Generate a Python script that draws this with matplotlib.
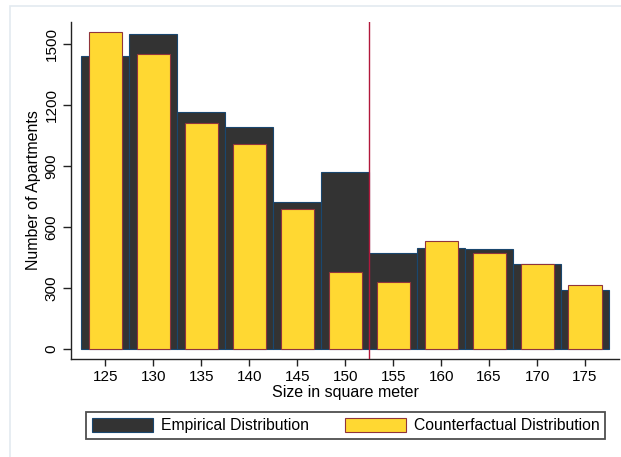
import matplotlib
matplotlib.use("Agg")
import matplotlib.pyplot as plt
from matplotlib.patches import Rectangle

plt.rcParams['font.family'] = ['Liberation Sans', 'DejaVu Sans']

# Apartment counts per 5 m² size bin
sizes = [125, 130, 135, 140, 145, 150, 155, 160, 165, 170, 175]
empirical = [1440, 1549, 1165, 1091, 723, 870, 473, 496, 490, 419, 291]
counterfactual = [1556, 1451, 1110, 1007, 686, 377, 329, 532, 470, 418, 314]
x_ticks = sizes
y_ticks = [0, 300, 600, 900, 1200, 1500]
threshold = 152.5

W, H = 621, 457
fig = plt.figure(figsize=(W / 100, H / 100), dpi=100)
fig.patch.set_facecolor('white')

# faint outer graph-region frame (open at the right and bottom edges)
fig.add_artist(Rectangle((10 / W, -0.05), (W - 10) / W + 0.05, (H - 6) / H + 0.05,
                         transform=fig.transFigure, fill=False,
                         edgecolor='#e3eaf0', linewidth=1.2))

left, right, top, bottom = 71, 619, 21.7, 359.3
ax = fig.add_axes([left / W, (H - bottom) / H, (right - left) / W, (bottom - top) / H])

ax.bar(sizes, empirical, width=5, color='#333333', edgecolor='#1a476f',
       linewidth=0.8, label='Empirical Distribution', zorder=2)
ax.bar(sizes, counterfactual, width=3.45, color='#ffd832', edgecolor='#90353b',
       linewidth=0.8, label='Counterfactual Distribution', zorder=3)
ax.axvline(threshold, color='#b2183b', linewidth=1.0, zorder=4)

ax.set_xlim(121.42, 178.54)
ax.set_ylim(-50.6, 1608)
ax.set_xticks(x_ticks)
ax.set_yticks(y_ticks)
ax.set_yticklabels([str(v) for v in y_ticks], rotation=90, va='center')

for s in ['top', 'right']:
    ax.spines[s].set_visible(False)
for s in ['left', 'bottom']:
    ax.spines[s].set_color('#222222')
    ax.spines[s].set_linewidth(1.0)

ax.tick_params(axis='both', direction='out', colors='#222222', labelcolor='black',
               labelsize=11, width=1.0)
ax.tick_params(axis='x', length=5, pad=3)
ax.tick_params(axis='y', length=6, pad=3)

ax.set_xlabel('Size in square meter', fontsize=11.5)
ax.set_ylabel('Number of Apartments', fontsize=11.5)
ax.xaxis.set_label_coords(0.5, (bottom - 385) / (bottom - top))
ax.yaxis.set_label_coords((41 - left) / (right - left), 0.5)

leg_l, leg_r, leg_t, leg_b = 83, 608, 411, 440
leg = fig.legend(loc='center', ncol=2,
                 bbox_to_anchor=((leg_l + leg_r) / 2 / W, 1 - (leg_t + leg_b) / 2 / H),
                 fontsize=11.3, handlelength=3.9, handleheight=1.0,
                 handletextpad=0.5, columnspacing=2.3, borderpad=0.35,
                 fancybox=False, frameon=True)
leg.get_frame().set_edgecolor('#222222')
leg.get_frame().set_linewidth(1.3)

fig.savefig('out.png', dpi=100)
